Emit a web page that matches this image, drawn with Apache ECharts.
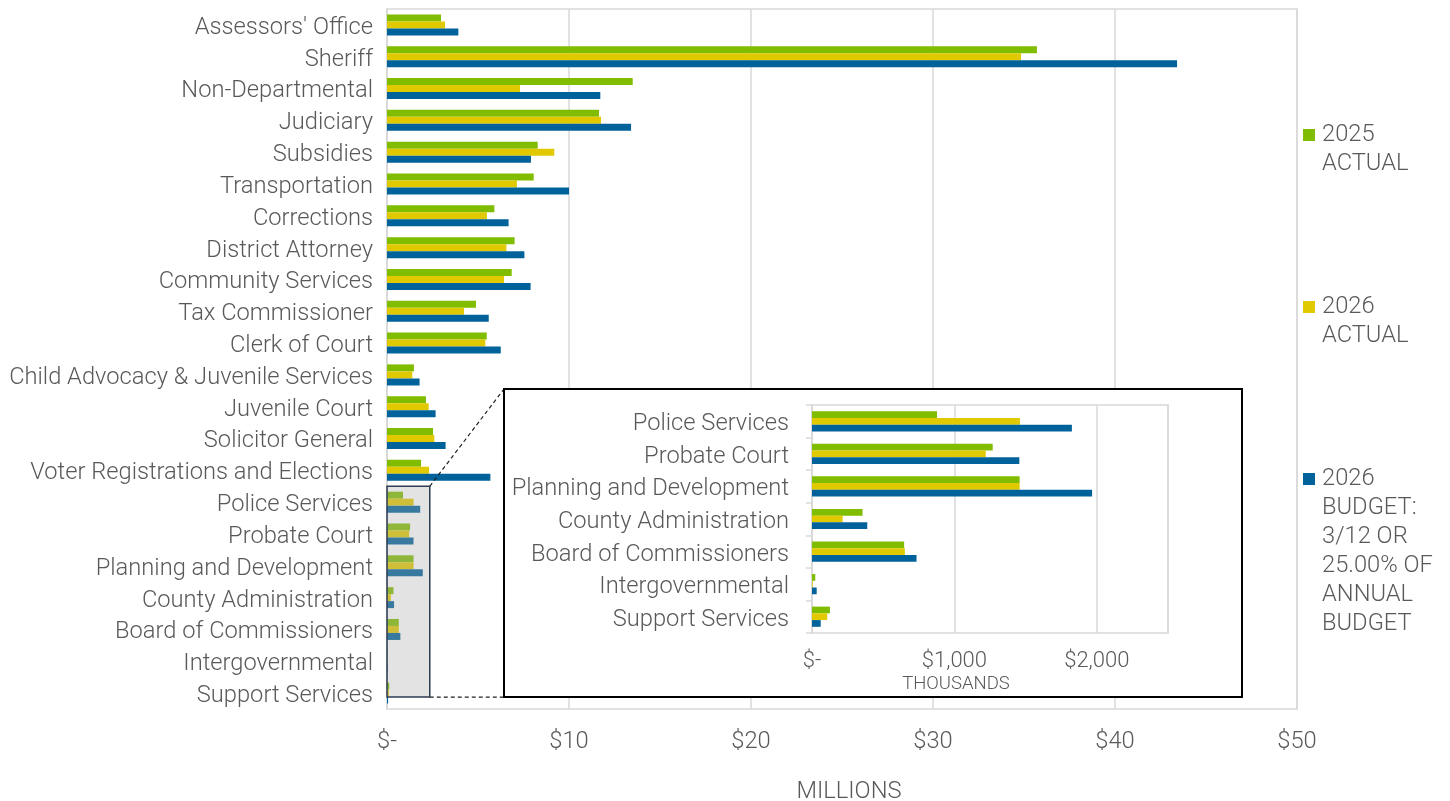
<!DOCTYPE html>
<html>
<head>
<meta charset="utf-8">
<script src="https://cdn.jsdelivr.net/npm/echarts@6/dist/echarts.min.js"></script>
<style>html,body{margin:0;padding:0;background:#fff;}#c{width:1450px;height:801px;}</style>
</head>
<body>
<div id="c"></div>
<script>
const categories = ["Assessors' Office","Sheriff","Non-Departmental","Judiciary","Subsidies","Transportation","Corrections","District Attorney","Community Services","Tax Commissioner","Clerk of Court","Child Advocacy & Juvenile Services","Juvenile Court","Solicitor General","Voter Registrations and Elections","Police Services","Probate Court","Planning and Development","County Administration","Board of Commissioners","Intergovernmental","Support Services"];
// values in millions
const actual2025 = [2.97,35.71,13.5,11.65,8.28,8.06,5.90,7.01,6.85,4.89,5.48,1.48,2.14,2.53,1.87,0.878,1.269,1.458,0.355,0.647,0.023,0.126];
const actual2026 = [3.19,34.84,7.31,11.76,9.19,7.14,5.49,6.56,6.43,4.23,5.40,1.39,2.29,2.60,2.31,1.460,1.220,1.458,0.215,0.652,0.005,0.107];
const budget2026 = [3.92,43.41,11.72,13.41,7.91,10.0,6.68,7.55,7.89,5.59,6.25,1.79,2.67,3.22,5.68,1.825,1.456,1.967,0.388,0.734,0.033,0.061];
const seriesNames = ['2025 ACTUAL','2026 ACTUAL','2026 BUDGET: 3/12 OR 25.00% OF ANNUAL BUDGET'];
const legendLines = [['2025','ACTUAL'],['2026','ACTUAL'],['2026','BUDGET:','3/12 OR','25.00% OF','ANNUAL','BUDGET']];
const colors = ['#80bc00','#e1c900','#00629b'];
const mainTicks = {min:0,max:50,interval:10};
const insetTicks = {min:0,max:2500,interval:1000};
const insetStart = 15; // first category shown in the zoom inset
const insetCategories = categories.slice(insetStart);
const toK = a => a.slice(insetStart).map(v => Math.round(v*1000));

const FONT = 'Roboto';
const TXT = '#595959';
const GRIDC = '#d9d9d9';
const FS = 23.7;

const chart = echarts.init(document.getElementById('c'));
const allSeries = [actual2025, actual2026, budget2026];

const mainSeries = allSeries.map((d,i)=>({
  name: seriesNames[i], type:'bar', xAxisIndex:0, yAxisIndex:0, data:d,
  barGap:'0%', barCategoryGap:'34%', itemStyle:{color:colors[i]}, z:2, animation:false
}));
const insetSeries = allSeries.map((d,i)=>({
  name: seriesNames[i], type:'bar', xAxisIndex:1, yAxisIndex:1, data:toK(d),
  barGap:'0%', barCategoryGap:'38%', itemStyle:{color:colors[i]}, z:12, animation:false
}));

const rich = {
  t:{fontFamily:FONT,fontWeight:300,fontSize:FS,lineHeight:29,color:TXT},
  ind:{width:19,height:12},
  gap:{width:7,height:12}
};
colors.forEach((c,i)=>{ rich['sq'+i] = {width:12,height:12,backgroundColor:c}; });

const option = {
  animation:false,
  textStyle:{fontFamily:FONT},
  legend:{
    orient:'vertical', left:1293, top:118, itemGap:119, icon:'none', itemWidth:0, itemHeight:12,
    data: seriesNames, selectedMode:false,
    formatter: name => {
      const i = seriesNames.indexOf(name);
      return legendLines[i].map((l,k)=> k===0 ? `{sq${i}|}{gap|}{t|${l}}` : `{ind|}{t|${l}}`).join('\n');
    },
    textStyle:{rich, fontFamily:FONT, fontSize:FS, color:TXT}
  },
  grid:[
    {left:387, top:9, width:910, height:700, show:true, borderColor:GRIDC, borderWidth:1.5, outerBoundsMode:'none', containLabel:false},
    {left:812, top:405, width:356, height:228, show:true, borderColor:GRIDC, borderWidth:1.5, z:11, outerBoundsMode:'none', containLabel:false}
  ],
  xAxis:[
    {gridIndex:0, type:'value', min:mainTicks.min, max:mainTicks.max, interval:mainTicks.interval,
     axisLine:{show:false}, axisTick:{show:false},
     splitLine:{lineStyle:{color:GRIDC,width:1.5}},
     axisLabel:{fontFamily:FONT,fontWeight:300,fontSize:FS,color:TXT,margin:21,formatter:v=>v===0?'$-':'$'+v},
     name:'MILLIONS', nameLocation:'middle', nameGap:71,
     nameTextStyle:{fontFamily:FONT,fontWeight:300,fontSize:FS,color:TXT,padding:[0,0,0,14]}},
    {gridIndex:1, type:'value', min:insetTicks.min, max:insetTicks.max, interval:insetTicks.interval, z:11,
     axisLine:{show:false}, axisTick:{show:false},
     splitLine:{lineStyle:{color:GRIDC,width:1.5}},
     axisLabel:{fontFamily:FONT,fontWeight:300,fontSize:22,color:TXT,margin:17,showMaxLabel:false,
       formatter:v=>v===0?'$-':'$'+v.toLocaleString('en-US')},
     name:'THOUSANDS', nameLocation:'middle', nameGap:42,
     nameTextStyle:{fontFamily:FONT,fontWeight:300,fontSize:18.5,color:TXT,padding:[0,68,0,0]}}
  ],
  yAxis:[
    {gridIndex:0, type:'category', data:categories, inverse:true,
     axisLine:{show:true,lineStyle:{color:GRIDC,width:1.5}}, axisTick:{show:false},
     axisLabel:{fontFamily:FONT,fontWeight:300,fontSize:FS,color:TXT,margin:14,verticalAlign:'top',lineHeight:6}},
    {gridIndex:1, type:'category', data:insetCategories, inverse:true, z:11,
     axisLine:{show:true,lineStyle:{color:GRIDC,width:1.5}},
     axisTick:{show:true,length:6,lineStyle:{color:GRIDC,width:1.5}},
     axisLabel:{fontFamily:FONT,fontWeight:300,fontSize:FS,color:TXT,margin:23,verticalAlign:'top',lineHeight:6}}
  ],
  series: mainSeries.concat(insetSeries)
};
chart.setOption(option);

// decorations: highlight box around the inset categories and the zoom frame
const pTopLeft = chart.convertToPixel({gridIndex:0},[0, insetStart]);
const pBot = chart.convertToPixel({gridIndex:0},[2.35, categories.length-1]);
const band = 700/categories.length;
const bx0 = pTopLeft[0], by0 = pTopLeft[1]-band/2, bx1 = pBot[0], by1 = pBot[1]+4;
const fx0 = 504, fy0 = 389, fx1 = 1242, fy1 = by1;
chart.setOption({
  graphic:[
    {type:'rect', z:5, shape:{x:bx0,y:by0,width:bx1-bx0,height:by1-by0},
     style:{fill:'rgba(170,170,170,0.33)',stroke:'#2e3d55',lineWidth:1.5}},
    {type:'line', z:5, shape:{x1:bx1,y1:by0,x2:fx0,y2:fy0}, style:{stroke:'#222',lineWidth:1.2,lineDash:[4,3]}},
    {type:'line', z:5, shape:{x1:bx1,y1:by1,x2:fx0,y2:fy1}, style:{stroke:'#222',lineWidth:1.2,lineDash:[4,3]}},
    {type:'rect', z:10, shape:{x:fx0,y:fy0,width:fx1-fx0,height:fy1-fy0},
     style:{fill:'#fff',stroke:'#000',lineWidth:2}}
  ]
});
</script>
</body>
</html>
